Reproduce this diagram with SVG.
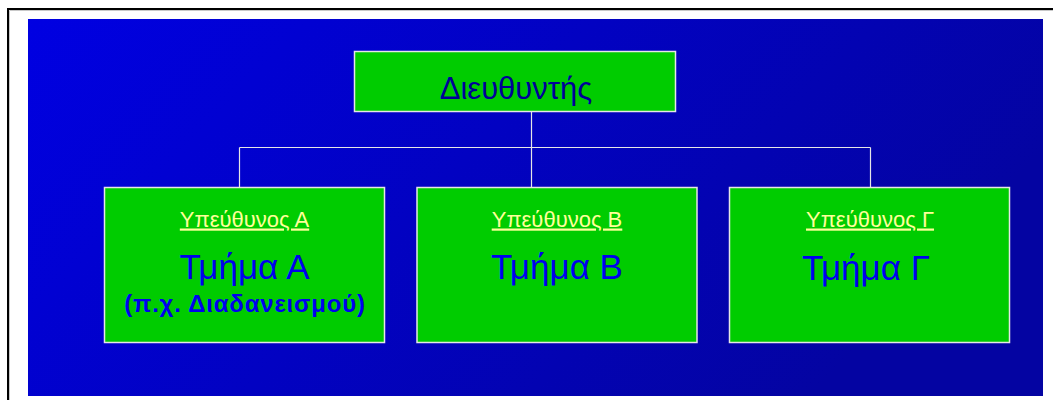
<svg xmlns="http://www.w3.org/2000/svg" width="1053" height="400" viewBox="0 0 1053 400">
<defs>
<linearGradient id="bg" x1="0" y1="0" x2="1" y2="0.35">
<stop offset="0" stop-color="#0000E2"/>
<stop offset="1" stop-color="#0404A2"/>
</linearGradient>
</defs>
<style>
.box{fill:#00CC00;stroke:#E6E6E6;stroke-width:1.5}
.con{fill:none;stroke:#E6E6E6;stroke-width:1.2}
.mgr{font-family:"Liberation Sans",Arial,sans-serif;font-size:22px;fill:#FFFF99;text-anchor:middle;text-decoration:underline}
.dept{font-family:"Liberation Sans",Arial,sans-serif;font-size:35px;fill:#0000EE;text-anchor:middle}
.sub{font-family:"Liberation Sans",Arial,sans-serif;font-size:24px;font-weight:bold;fill:#0000EE;text-anchor:middle;letter-spacing:0.8px}
.dir{font-family:"Liberation Sans",Arial,sans-serif;font-size:31px;fill:#000099;text-anchor:middle}
</style>
<rect width="1053" height="400" fill="#FFFFFF"/>
<path d="M8,400 V9 H1053" fill="none" stroke="#000000" stroke-width="2"/>
<path d="M9.5,400 V10.5 H1053" fill="none" stroke="#C8C8C8" stroke-width="1"/>
<rect x="28" y="19" width="1015" height="377" fill="url(#bg)"/>
<g id="connectors">
<path class="con" d="M531.5,112 V147.5 M239.5,147.5 H870.5 M239.5,147.5 V187 M531.5,147.5 V187 M870.5,147.5 V187"/>
</g>
<g id="director">
<rect class="box" x="354.5" y="51.5" width="321" height="60"/>
<text class="dir" x="516" y="99">Διευθυντής</text>
</g>
<g id="deptA">
<rect class="box" x="104.5" y="187.5" width="280" height="155"/>
<text class="mgr" x="244.5" y="226.5">Υπεύθυνος Α</text>
<text class="dept" x="244.5" y="278.5">Τμήμα Α</text>
<text class="sub" x="245" y="311.5">(π.χ. Διαδανεισμού)</text>
</g>
<g id="deptB">
<rect class="box" x="417" y="187.5" width="280" height="155"/>
<text class="mgr" x="557" y="226.5">Υπεύθυνος Β</text>
<text class="dept" x="557" y="279">Τμήμα Β</text>
</g>
<g id="deptC">
<rect class="box" x="729.5" y="187.5" width="280" height="155"/>
<text class="mgr" x="870" y="226.5">Υπεύθυνος Γ</text>
<text class="dept" x="866" y="280">Τμήμα Γ</text>
</g>
</svg>
